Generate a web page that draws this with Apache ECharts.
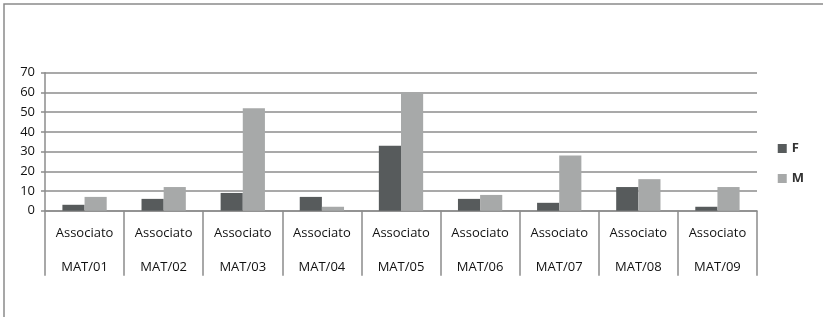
<!DOCTYPE html>
<html>
<head>
<meta charset="utf-8">
<script src="https://cdn.jsdelivr.net/npm/echarts@6/dist/echarts.min.js"></script>
<style>
	html, body { margin: 0; padding: 0; background: #fff; }
	#chart { width: 823px; height: 317px; }
</style>
</head>
<body>
<div id="chart"></div>
<script>
	// dati
	var ruolo = 'Associato';
	var settori = ['MAT/01', 'MAT/02', 'MAT/03', 'MAT/04', 'MAT/05', 'MAT/06', 'MAT/07', 'MAT/08', 'MAT/09'];
	var valoriF = [3, 6, 9, 7, 33, 6, 4, 12, 2];
	var valoriM = [7, 12, 52, 2, 60, 8, 28, 16, 12];
	var ticksY = [0, 10, 20, 30, 40, 50, 60, 70];

	var grigio = '#8c8c8c';
	var font = '"Open Sans", "Liberation Sans", sans-serif';

	var categorie = [];
	for (var i = 0; i < settori.length; i++) {
		categorie.push(ruolo + '\n' + settori[i]);
	}

	var option = {
		animation: false,
		backgroundColor: '#ffffff',
		graphic: [{
			type: 'rect',
			shape: { x: 4, y: 4, width: 840, height: 330 },
			style: { fill: 'none', stroke: '#8a8a8a', lineWidth: 1.5 }
		}],
		legend: {
			orient: 'vertical',
			right: 14,
			top: 137,
			icon: 'rect',
			itemWidth: 9,
			itemHeight: 9,
			itemGap: 17,
			textStyle: { fontFamily: font, fontSize: 13, color: '#333', fontWeight: 'bold' },
			data: ['F', 'M']
		},
		grid: {
			left: 45,
			right: 66,
			top: 72.7,
			bottom: 106.3
		},
		xAxis: {
			type: 'category',
			data: categorie,
			axisLine: { show: true, lineStyle: { color: grigio, width: 1.5 } },
			axisTick: { show: true, interval: 0, length: 65, lineStyle: { color: grigio, width: 1.5 } },
			axisLabel: {
				interval: 0,
				margin: 6,
				lineHeight: 34,
				fontFamily: font,
				fontSize: 13,
				color: '#111'
			}
		},
		yAxis: {
			type: 'value',
			min: ticksY[0],
			max: ticksY[ticksY.length - 1],
			interval: 10,
			axisLine: { show: true, lineStyle: { color: grigio, width: 1.5 } },
			axisTick: { show: true, length: 4, lineStyle: { color: grigio, width: 1.5 } },
			splitLine: { show: true, lineStyle: { color: grigio, width: 1.5 } },
			axisLabel: {
				margin: 10,
				fontFamily: font,
				fontSize: 13,
				color: '#111'
			}
		},
		series: [{
			name: 'F',
			type: 'bar',
			data: valoriF,
			barGap: '0%',
			barCategoryGap: '44%',
			itemStyle: { color: '#575b5c' }
		}, {
			name: 'M',
			type: 'bar',
			data: valoriM,
			barGap: '0%',
			barCategoryGap: '44%',
			itemStyle: { color: '#a7a9a9' }
		}]
	};

	echarts.init(document.getElementById('chart')).setOption(option);
</script>
</body>
</html>
